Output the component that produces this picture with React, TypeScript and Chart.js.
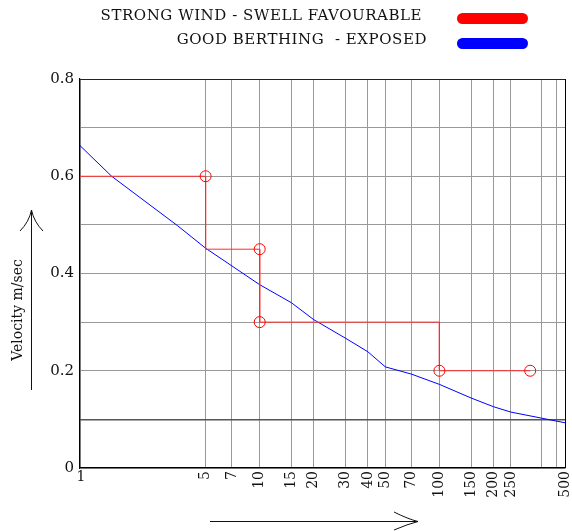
import React, { useEffect, useRef } from 'react';
import { Chart, registerables } from 'chart.js';

Chart.register(...registerables);

// ---- data ----
const redX = [1, 5, 5, 10, 10, 100, 100, 320];
const redY = [0.6, 0.6, 0.45, 0.45, 0.3, 0.3, 0.2, 0.2];
const redMarker = [false, true, false, true, true, false, true, true];

const blueX = [1, 1.5, 3.5, 5, 10, 15, 20, 30, 40, 50, 70, 100, 150, 200, 250, 500];
const blueY = [0.663, 0.6, 0.498, 0.452, 0.377, 0.34, 0.305, 0.267, 0.239, 0.208, 0.193, 0.172, 0.144, 0.126, 0.115, 0.093];

const xTickValues = [1, 5, 7, 10, 15, 20, 30, 40, 50, 70, 100, 150, 200, 250, 370, 450, 500];
const xTickLabels = ['1', '5', '7', '10', '15', '20', '30', '40', '50', '70', '100', '150', '200', '250', '', '', '500'];
const yLabelValues = [0, 0.2, 0.4, 0.6, 0.8];
const yLabelTexts = ['0', '0.2', '0.4', '0.6', '0.8'];

const legendLabels = ['STRONG WIND - SWELL FAVOURABLE', 'GOOD BERTHING  - EXPOSED'];
const legendColors = ['#ff0000', '#0000ff'];
const yAxisTitle = 'Velocity m/sec';

const FONT = '"DejaVu Serif", serif';

export default function App() {
  const ref = useRef<HTMLCanvasElement | null>(null);

  useEffect(() => {
    if (!ref.current) return;
    const decor = {
      id: 'decor',
      afterDraw(chart: any) {
        const ctx = chart.ctx;
        const xs = chart.scales.x;
        const area = chart.chartArea;
        ctx.save();
        ctx.fillStyle = '#111';
        ctx.font = `14px ${FONT}`;
        xTickValues.forEach((v, i) => {
          const label = xTickLabels[i];
          if (!label) return;
          const px = xs.getPixelForValue(v);
          if (i === 0) {
            ctx.textAlign = 'center';
            ctx.textBaseline = 'top';
            ctx.fillText(label, px + 1, area.bottom + 2);
          } else {
            ctx.save();
            ctx.translate(px, area.bottom + 3);
            ctx.rotate(-Math.PI / 2);
            ctx.textAlign = 'right';
            ctx.textBaseline = 'middle';
            ctx.fillText(label, 0, 0);
            ctx.restore();
          }
        });
        // y axis title
        ctx.save();
        ctx.font = `14px ${FONT}`;
        ctx.translate(22, 310);
        ctx.rotate(-Math.PI / 2);
        ctx.textAlign = 'center';
        ctx.textBaseline = 'alphabetic';
        ctx.fillText(yAxisTitle, 0, 0);
        ctx.restore();
        // arrows
        ctx.strokeStyle = '#111';
        ctx.lineWidth = 1;
        ctx.beginPath();
        ctx.moveTo(31.5, 390);
        ctx.lineTo(31.5, 210);
        ctx.moveTo(20, 231);
        ctx.quadraticCurveTo(29, 222, 31.5, 210);
        ctx.quadraticCurveTo(34, 222, 43, 231);
        ctx.stroke();
        ctx.beginPath();
        ctx.moveTo(210, 521.5);
        ctx.lineTo(418, 521.5);
        ctx.moveTo(394, 512);
        ctx.quadraticCurveTo(408, 519, 418, 521.5);
        ctx.quadraticCurveTo(408, 524, 394, 530);
        ctx.stroke();
        ctx.restore();
      },
    };

    const chart = new Chart(ref.current, {
      type: 'line',
      data: {
        datasets: [
          {
            data: redX.map((x, i) => ({ x, y: redY[i] })),
            borderColor: '#ff2a2a',
            borderWidth: 1,
            pointRadius: redMarker.map((m) => (m ? 5.5 : 0)),
            pointHoverRadius: redMarker.map((m) => (m ? 5.5 : 0)),
            pointBackgroundColor: 'rgba(0,0,0,0)',
            pointBorderColor: '#ff0000',
            pointBorderWidth: 1,
            fill: false,
            tension: 0,
          },
          {
            data: blueX.map((x, i) => ({ x, y: blueY[i] })),
            borderColor: '#0000ff',
            borderWidth: 1,
            pointRadius: 0,
            fill: false,
            tension: 0,
          },
        ],
      },
      options: {
        animation: false,
        responsive: false,
        events: [],
        layout: { padding: { top: 79, right: 7, left: 0, bottom: 0 } },
        plugins: { legend: { display: false }, tooltip: { enabled: false } },
        scales: {
          x: {
            type: 'logarithmic',
            min: 1,
            max: 500,
            afterBuildTicks: (scale: any) => {
              scale.ticks = xTickValues.map((v) => ({ value: v }));
            },
            afterFit: (scale: any) => {
              scale.height = 63;
            },
            ticks: { display: false },
            grid: {
              drawTicks: false,
              color: (c: any) => (c.tick && c.tick.value === 500 ? '#000' : '#999'),
              lineWidth: 1,
            },
            border: { color: '#000', width: 1.2 },
          },
          y: {
            type: 'linear',
            min: 0,
            max: 0.8,
            afterFit: (scale: any) => {
              scale.width = 80;
            },
            ticks: {
              stepSize: 0.1,
              padding: 6,
              color: '#111',
              font: { family: FONT, size: 15 },
              callback: (v: any) => {
                const idx = yLabelValues.findIndex((t) => Math.abs(t - Number(v)) < 1e-6);
                return idx >= 0 ? yLabelTexts[idx] : '';
              },
            },
            grid: {
              drawTicks: false,
              color: (c: any) => {
                const v = c.tick ? c.tick.value : 0;
                if (Math.abs(v - 0.1) < 1e-6) return '#555';
                if (Math.abs(v - 0.8) < 1e-6) return '#222';
                return '#999';
              },
              lineWidth: (c: any) => {
                const v = c.tick ? c.tick.value : 0;
                return Math.abs(v - 0.1) < 1e-6 ? 1.5 : 1;
              },
            },
            border: { color: '#000', width: 1.2 },
          },
        },
      },
      plugins: [decor],
    } as any);
    return () => chart.destroy();
  }, []);

  return (
    <div style={{ position: 'absolute', left: 0, top: 0, width: 572, height: 531, background: '#fff' }}>
      <canvas ref={ref} width={572} height={531} style={{ display: 'block' }} />
      {legendLabels.map((t, i) => (
        <React.Fragment key={t}>
          <div
            style={{
              position: 'absolute',
              right: i === 0 ? 150 : 145,
              top: i === 0 ? 5 : 29,
              fontFamily: FONT,
              fontSize: 15,
              letterSpacing: '0.55px',
              color: '#111',
              whiteSpace: 'pre',
              lineHeight: '20px',
            }}
          >
            {t}
          </div>
          <div
            style={{
              position: 'absolute',
              left: 457,
              top: i === 0 ? 13 : 38,
              width: 71,
              height: 11,
              borderRadius: 6,
              background: legendColors[i],
            }}
          />
        </React.Fragment>
      ))}
    </div>
  );
}
